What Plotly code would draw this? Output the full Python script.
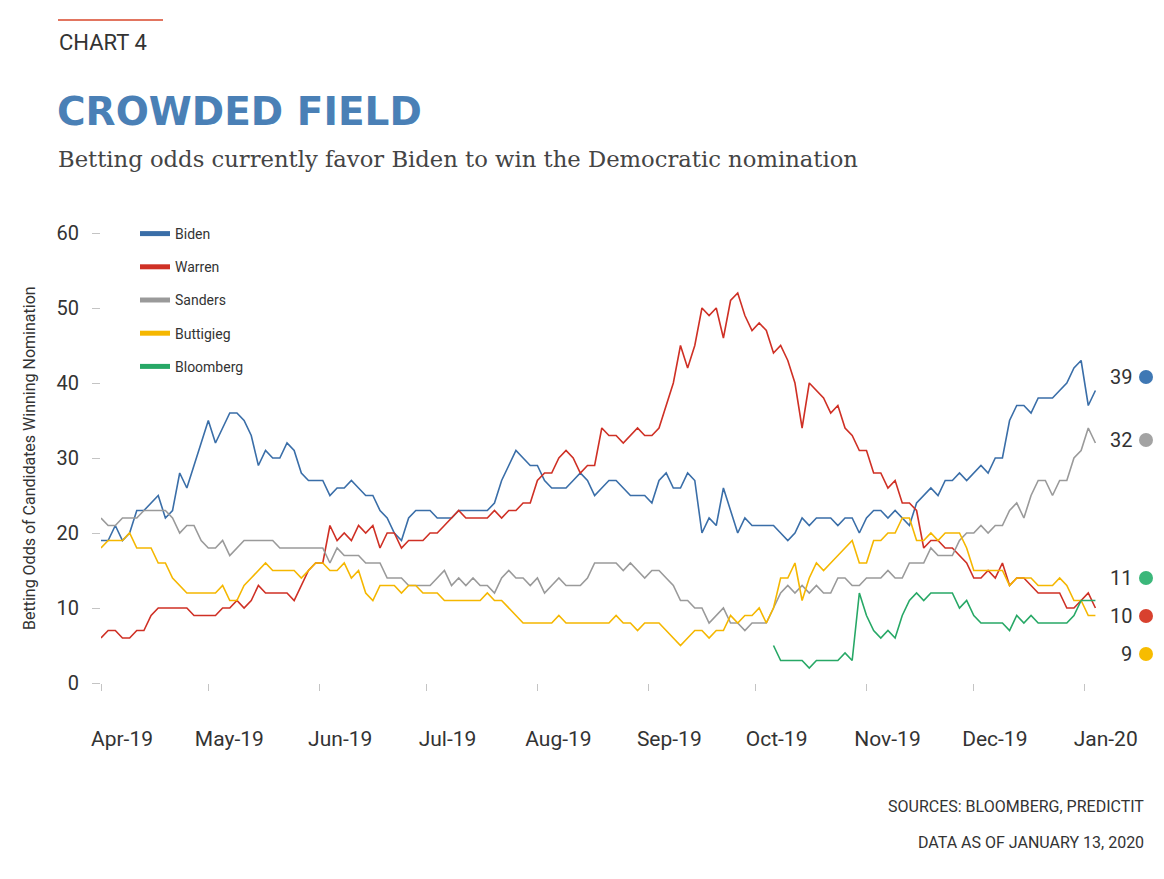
import pandas as pd
import plotly.graph_objects as go

# ---------------- data (every 2 days) ----------------
dates = pd.date_range("2019-04-01", periods=140, freq="2D")
bloomberg_dates = pd.date_range("2019-10-06", periods=46, freq="2D")

biden = [19, 19, 21, 19, 20, 23, 23, 24, 25, 22, 23, 28, 26, 29, 32, 35, 32, 34, 36, 36,
         35, 33, 29, 31, 30, 30, 32, 31, 28, 27, 27, 27, 25, 26, 26,
         27, 26, 25, 25, 23, 22, 20, 19, 22, 23, 23, 23, 22, 22, 22, 23, 23, 23, 23, 23,
         24, 27, 29, 31, 30, 29, 29, 27, 26, 26, 26, 27, 28, 27, 25,
         26, 27, 27, 26, 25, 25, 25, 24, 27, 28, 26, 26, 28, 27, 20, 22, 21, 26, 23, 20,
         22, 21, 21, 21, 21, 20, 19, 20, 22, 21, 22, 22, 22, 21, 22,
         22, 20, 22, 23, 23, 22, 23, 22, 21, 24, 25, 26, 25, 27, 27, 28, 27, 28, 29, 28,
         30, 30, 35, 37, 37, 36, 38, 38, 38, 39, 40, 42, 43, 37, 39]

warren = [6, 7, 7, 6, 6, 7, 7, 9, 10, 10, 10, 10, 10, 9, 9, 9, 9, 10, 10, 11,
          10, 11, 13, 12, 12, 12, 12, 11, 13, 15, 16, 16, 21, 19, 20,
          19, 21, 20, 21, 18, 20, 20, 18, 19, 19, 19, 20, 20, 21, 22, 23, 22, 22, 22, 22,
          23, 22, 23, 23, 24, 24, 27, 28, 28, 30, 31, 30, 28, 29, 29,
          34, 33, 33, 32, 33, 34, 33, 33, 34, 37, 40, 45, 42, 45, 50, 49, 50, 46, 51, 52,
          49, 47, 48, 47, 44, 45, 43, 40, 34, 40, 39, 38, 36, 37, 34,
          33, 31, 31, 28, 28, 26, 27, 24, 24, 23, 18, 19, 19, 18, 18, 17, 16, 14, 14, 15,
          14, 16, 13, 14, 14, 13, 12, 12, 12, 12, 10, 10, 11, 12, 10]

sanders = [22, 21, 21, 22, 22, 22, 23, 23, 23, 23, 22, 20, 21, 21, 19, 18, 18, 19, 17, 18,
           19, 19, 19, 19, 19, 18, 18, 18, 18, 18, 18, 18, 16, 18, 17,
           17, 17, 16, 16, 16, 14, 14, 14, 13, 13, 13, 13, 14, 15, 13, 14, 13, 14, 13, 13,
           12, 14, 15, 14, 14, 13, 14, 12, 13, 14, 13, 13, 13, 14, 16,
           16, 16, 16, 15, 16, 15, 14, 15, 15, 14, 13, 11, 11, 10, 10, 8, 9, 10, 8, 8,
           7, 8, 8, 8, 10, 12, 13, 12, 13, 12, 13, 12, 12, 14, 14,
           13, 13, 14, 14, 14, 15, 14, 14, 16, 16, 16, 18, 17, 17, 17, 19, 20, 20, 21, 20,
           21, 21, 23, 24, 22, 25, 27, 27, 25, 27, 27, 30, 31, 34, 32]

buttigieg = [18, 19, 19, 19, 20, 18, 18, 18, 16, 16, 14, 13, 12, 12, 12, 12, 12, 13, 11, 11,
             13, 14, 15, 16, 15, 15, 15, 15, 14, 15, 16, 16, 15, 15, 16,
             14, 15, 12, 11, 13, 13, 13, 12, 13, 13, 12, 12, 12, 11, 11, 11, 11, 11, 11, 12,
             11, 11, 10, 9, 8, 8, 8, 8, 8, 9, 8, 8, 8, 8, 8,
             8, 8, 9, 8, 8, 7, 8, 8, 8, 7, 6, 5, 6, 7, 7, 6, 7, 7, 9, 8,
             9, 9, 10, 8, 10, 14, 14, 16, 11, 14, 16, 15, 16, 17, 18,
             19, 16, 16, 19, 19, 20, 20, 22, 22, 19, 19, 20, 19, 20, 20, 20, 18, 15, 15, 15,
             15, 15, 13, 14, 14, 14, 13, 13, 13, 14, 13, 11, 11, 9, 9]

bloomberg = [5, 3, 3, 3, 3, 2, 3, 3, 3, 3, 4,
             3, 12, 9, 7, 6, 7, 6, 9, 11, 12, 11, 12, 12, 12, 12, 10, 11, 9, 8, 8,
             8, 8, 7, 9, 8, 9, 8, 8, 8, 8, 8, 9, 11, 11, 11]

names = ["Biden", "Warren", "Sanders", "Buttigieg", "Bloomberg"]
series = {"Biden": (dates, biden), "Warren": (dates, warren), "Sanders": (dates, sanders),
          "Buttigieg": (dates, buttigieg), "Bloomberg": (bloomberg_dates, bloomberg)}
line_colors = {"Biden": "#3a6ea8", "Warren": "#cf3025", "Sanders": "#9a9a9a",
               "Buttigieg": "#f5b700", "Bloomberg": "#27a866"}
dot_colors = {"Biden": "#3f78b4", "Warren": "#d8412e", "Sanders": "#a3a3a3",
              "Buttigieg": "#f7bc00", "Bloomberg": "#3bb77a"}

month_ticks = pd.date_range("2019-04-01", "2020-01-01", freq="MS")
tick_labels = ["Apr-19", "May-19", "Jun-19", "Jul-19", "Aug-19", "Sep-19",
               "Oct-19", "Nov-19", "Dec-19", "Jan-20"]
y_ticks = [0, 10, 20, 30, 40, 50, 60]

# end-label order (top to bottom) and their vertical pixel slots
end_order = ["Biden", "Sanders", "Bloomberg", "Warren", "Buttigieg"]
end_slots_px = [377, 440, 578, 616, 654]

# ---------------- layout geometry ----------------
W, H = 1164, 879
L, R, T, B = 101, 65, 233, 196
PW, PH = W - L - R, H - T - B


def px(x, y):
    return (x - L) / PW, (H - B - y) / PH


fig = go.Figure()
for n in names:
    xs, ys = series[n]
    fig.add_trace(go.Scatter(x=xs, y=ys, mode="lines", name=n, showlegend=False,
                             line=dict(color=line_colors[n], width=1.6), hoverinfo="x+y+name"))
for n in names:
    fig.add_trace(go.Scatter(x=[None], y=[None], mode="lines", name=n, legendgroup=n,
                             line=dict(color=line_colors[n], width=5)))

FONT = "Roboto"
annotations = []
shapes = []

# header
x0, y0 = px(58, 20)
x1, _ = px(163, 20)
shapes.append(dict(type="line", xref="paper", yref="paper", x0=x0, x1=x1, y0=y0, y1=y0,
                   line=dict(color="#d9472b", width=1.5)))
ax, ay = px(57, 43)
annotations.append(dict(text="CHART 4", x=ax, y=ay, xref="paper", yref="paper", xanchor="left",
                        yanchor="middle", showarrow=False,
                        font=dict(family=FONT, size=22, color="#333333")))
ax, ay = px(55, 111)
annotations.append(dict(text="<b>CROWDED FIELD</b>", x=ax, y=ay, xref="paper", yref="paper",
                        xanchor="left", yanchor="middle", showarrow=False,
                        font=dict(family="DejaVu Sans", size=39, color="#4a80b6")))
ax, ay = px(56, 159)
annotations.append(dict(text="Betting odds currently favor Biden to win the Democratic nomination",
                        x=ax, y=ay, xref="paper", yref="paper", xanchor="left", yanchor="middle",
                        showarrow=False, font=dict(family="DejaVu Serif", size=22.7, color="#444444")))

# y-axis title
ax, ay = px(29, 458)
annotations.append(dict(text="Betting Odds of Candidates Winning Nomination", x=ax, y=ay,
                        xref="paper", yref="paper", xanchor="center", yanchor="middle",
                        textangle=-90, showarrow=False,
                        font=dict(family=FONT, size=16, color="#333333")))

# end labels
for n, slot in zip(end_order, end_slots_px):
    val = series[n][1][-1]
    tx, ty = px(1134, slot)
    annotations.append(dict(text=str(val), x=tx, y=ty, xref="paper", yref="paper",
                            xanchor="right", yanchor="middle", showarrow=False,
                            font=dict(family=FONT, size=20, color="#333333")))
    cx, cy = px(1146, slot)
    shapes.append(dict(type="circle", xref="paper", yref="paper", xsizemode="pixel",
                       ysizemode="pixel", xanchor=cx, yanchor=cy, x0=-7, x1=7, y0=-7, y1=7,
                       fillcolor=dot_colors[n], line=dict(width=0)))

# footer
for text, yy in [("SOURCES: BLOOMBERG, PREDICTIT", 806), ("DATA AS OF JANUARY 13, 2020", 842)]:
    fx, fy = px(1146, yy)
    annotations.append(dict(text=text, x=fx, y=fy, xref="paper", yref="paper", xanchor="right",
                            yanchor="middle", showarrow=False,
                            font=dict(family=FONT, size=16, color="#333333")))

lx, ly = px(135, 218)
fig.update_layout(
    width=W, height=H, autosize=False,
    margin=dict(l=L, r=R, t=T, b=B, pad=0),
    paper_bgcolor="white", plot_bgcolor="white",
    font=dict(family=FONT, color="#333333"),
    showlegend=True,
    legend=dict(x=lx, y=ly, xanchor="left", yanchor="top", orientation="v",
                font=dict(family=FONT, size=14, color="#333333"), tracegroupgap=12,
                bgcolor="rgba(0,0,0,0)", borderwidth=0),
    xaxis=dict(type="date", range=["2019-04-01", "2020-01-05"], tickvals=month_ticks,
               ticktext=tick_labels, ticks="outside", ticklen=7, tickwidth=1, tickcolor="#c4c4c4",
               showgrid=False, zeroline=False, showline=False,
               tickfont=dict(family=FONT, size=21, color="#333333"),
               ticklabelshift=21, ticklabelstandoff=30),
    yaxis=dict(range=[0, 60], tickvals=y_ticks, ticks="outside", ticklen=8, tickwidth=1,
               tickcolor="#c4c4c4", showgrid=False, zeroline=False, showline=False,
               tickfont=dict(family=FONT, size=20, color="#333333"), ticklabelstandoff=9),
    annotations=annotations, shapes=shapes,
    hovermode="closest",
)

fig.write_html("out.html", config={"displayModeBar": False},
               post_script="document.body.style.margin='0px';")
